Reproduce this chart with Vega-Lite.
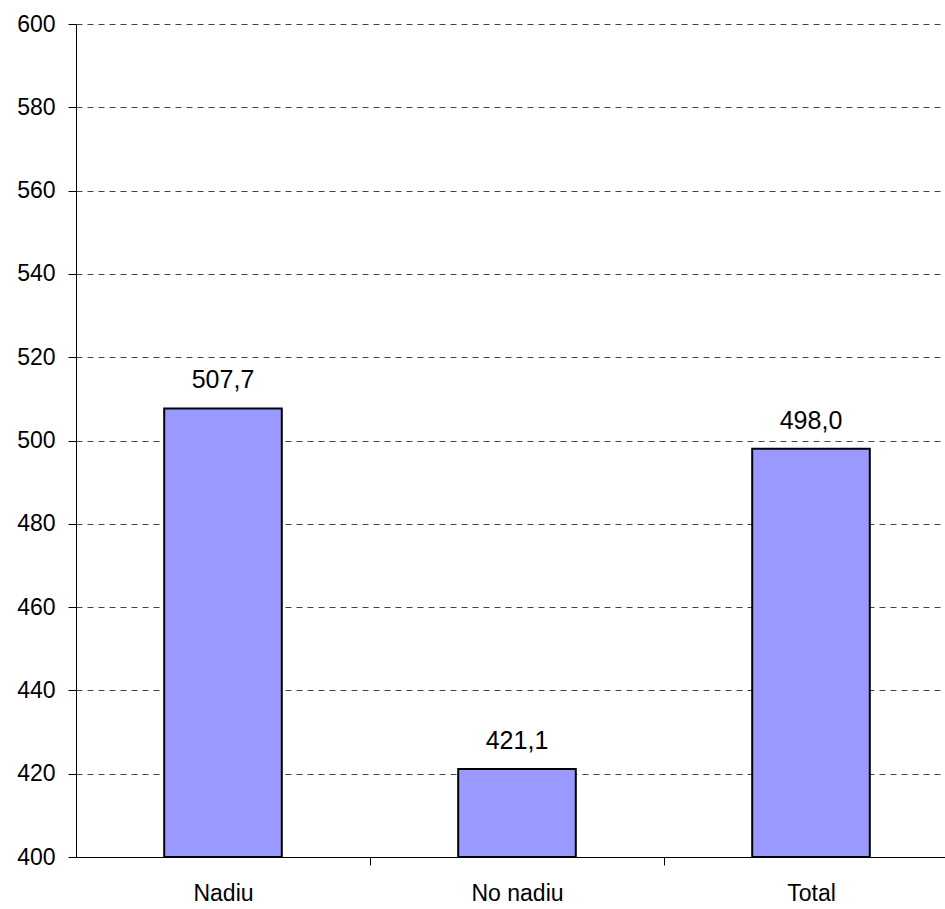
{
  "$schema": "https://vega.github.io/schema/vega-lite/v6.json",
  "width": 882,
  "height": 833,
  "autosize": "none",
  "padding": {"left": 76, "top": 24, "right": 0, "bottom": 52},
  "background": "white",
  "data": {
    "values": [
      {"category": "Nadiu", "value": 507.7},
      {"category": "No nadiu", "value": 421.1},
      {"category": "Total", "value": 498.0}
    ]
  },
  "encoding": {
    "x": {
      "field": "category",
      "type": "nominal",
      "sort": null,
      "scale": {"paddingInner": 0.6, "paddingOuter": 0.3},
      "axis": {
        "title": null,
        "labelAngle": 0,
        "tickOffset": 147,
        "labelOffset": -147,
        "tickSize": 8,
        "tickColor": "#000000",
        "domainColor": "#000000",
        "labelPadding": 17,
        "labelFontSize": 23,
        "labelFont": "Liberation Sans",
        "labelColor": "#000000",
        "grid": false
      }
    },
    "y": {
      "field": "value",
      "type": "quantitative",
      "scale": {"domain": [400, 600], "nice": false, "zero": false},
      "axis": {
        "title": null,
        "values": [400, 420, 440, 460, 480, 500, 520, 540, 560, 580, 600],
        "format": "d",
        "tickSize": 8,
        "tickColor": "#000000",
        "domainColor": "#000000",
        "labelPadding": 13,
        "labelFontSize": 23,
        "labelFont": "Liberation Sans",
        "labelColor": "#000000",
        "grid": true,
        "gridColor": "#444444",
        "gridDash": [6, 5],
        "gridWidth": 1,
        "gridOpacity": 1
      }
    }
  },
  "layer": [
    {
      "mark": {"type": "bar", "fill": "#9999FF", "stroke": "#000000", "strokeWidth": 2, "clip": true},
      "encoding": {
        "y": {"field": "value", "type": "quantitative"},
        "y2": {"datum": 400}
      }
    },
    {
      "mark": {"type": "text", "baseline": "alphabetic", "dy": -20, "fontSize": 25, "font": "Liberation Sans", "color": "#000000"},
      "encoding": {
        "text": {"field": "value", "type": "quantitative", "format": ".1f"}
      }
    }
  ],
  "config": {
    "view": {"stroke": null},
    "locale": {
      "number": {"decimal": ",", "thousands": ".", "grouping": [3], "currency": ["", " €"]}
    }
  }
}
